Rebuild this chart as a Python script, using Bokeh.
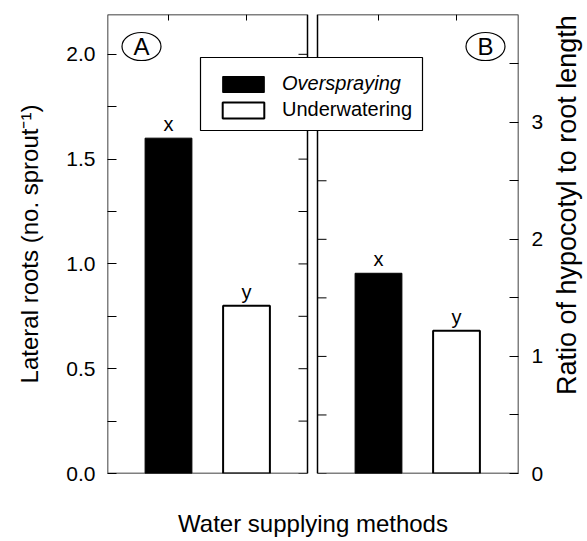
import math
from bokeh.plotting import figure
from bokeh.layouts import row
from bokeh.models import (Range1d, LinearAxis, FixedTicker, BoxAnnotation, Legend,
                          LegendItem, NumeralTickFormatter, ColumnDataSource)
from bokeh.core.properties import value
from bokeh.embed import file_html
from bokeh.resources import INLINE

# ---------------- data ----------------
methods = ["Overspraying", "Underwatering"]
method_pos = [1, 2]
lateral_roots = [1.60, 0.80]          # panel A, no. sprout^-1
hypocotyl_ratio = [1.71, 1.22]        # panel B, ratio
letters_lateral = ["x", "y"]
letters_ratio = ["x", "y"]
panel_tags = ["A", "B"]
a_major = [0.0, 0.5, 1.0, 1.5, 2.0]
a_minor = [0.25, 0.75, 1.25, 1.75]
b_major = [0, 1, 2, 3]
b_minor = [0.5, 1.5, 2.5, 3.5]
A_YMAX = 2.19
B_YMAX = 3.92
x_title = "Water supplying methods"
ya_title = "Lateral roots (no. sprout\u207b\u00b9)"
yb_title = "Ratio of hypocotyl to root length"

# ---------------- layout ----------------
FONT = "Liberation Sans"
FRAME_W, FRAME_H = 411, 459
FRAME_LEFT, FRAME_TOP = 107, 14          # page pixels
BORDER_RIGHT, BORDER_BOTTOM = 28, 64
PAGE_W = 587
PANEL_A_W, GAP = 200, 10
PX = 78.0                                # pixels per category step
FIRST_BAR_PX = 61
BAR_W = 0.6
TICK = 9
TOP_TICK = 6

xa0 = method_pos[0] - FIRST_BAR_PX / PX
xa1 = xa0 + FRAME_W / PX
shift = (PANEL_A_W + GAP) / PX
xb0 = xa0 - shift
xb1 = xb0 + FRAME_W / PX
panel_a_right = xa0 + PANEL_A_W / PX
FIG_H = FRAME_TOP + FRAME_H + BORDER_BOTTOM
FRAME_BOTTOM = FRAME_TOP + FRAME_H


def ax(px):
    return xa0 + (px - FRAME_LEFT) / PX


def ay(py):
    return A_YMAX * (FRAME_BOTTOM - py) / FRAME_H


p = figure(frame_width=FRAME_W, frame_height=FRAME_H,
           x_range=Range1d(xa0, xa1), y_range=Range1d(0, A_YMAX),
           output_backend="svg", toolbar_location=None, tools="",
           min_border_left=FRAME_LEFT, min_border_right=BORDER_RIGHT,
           min_border_top=FRAME_TOP, min_border_bottom=BORDER_BOTTOM,
           outline_line_color=None,
           background_fill_color="white", border_fill_color="white")
p.extra_x_ranges = {"b": Range1d(xb0, xb1)}
p.extra_y_ranges = {"b": Range1d(0, B_YMAX)}
p.grid.visible = False

# bottom axis: title only
xa = p.below[0]
xa.ticker = FixedTicker(ticks=[])
xa.axis_line_color = None
xa.major_tick_in = 0
xa.major_tick_out = 0
xa.minor_tick_in = 0
xa.minor_tick_out = 0
xa.major_label_standoff = 0
xa.axis_label = x_title
xa.axis_label_standoff = 36
xa.axis_label_text_font = FONT
xa.axis_label_text_font_size = "24px"
xa.axis_label_text_font_style = "normal"
xa.axis_label_text_color = "black"

# left axis (panel A)
ya = p.left[0]
ya.ticker = FixedTicker(ticks=a_major, minor_ticks=a_minor)
ya.formatter = NumeralTickFormatter(format="0.0")
ya.axis_line_color = None
ya.major_tick_in = TICK
ya.major_tick_out = 0
ya.minor_tick_in = TICK
ya.minor_tick_out = 0
ya.major_label_standoff = 12
ya.major_label_text_font = FONT
ya.major_label_text_font_size = "21px"
ya.major_label_text_color = "black"
ya.axis_label = ya_title
ya.axis_label_standoff = 20
ya.axis_label_text_font = FONT
ya.axis_label_text_font_size = "24px"
ya.axis_label_text_font_style = "normal"
ya.axis_label_text_color = "black"

# right axis (panel B)
yb = LinearAxis(y_range_name="b", ticker=FixedTicker(ticks=b_major, minor_ticks=b_minor),
                formatter=NumeralTickFormatter(format="0"))
yb.axis_line_color = None
yb.major_tick_in = TICK
yb.major_tick_out = 0
yb.minor_tick_in = TICK
yb.minor_tick_out = 0
yb.major_label_standoff = 13
yb.major_label_text_font = FONT
yb.major_label_text_font_size = "21px"
yb.major_label_text_color = "black"
p.add_layout(yb, "right")

# bars
src_a = ColumnDataSource(dict(x=method_pos, top=lateral_roots, lab=letters_lateral))
src_b = ColumnDataSource(dict(x=method_pos, top=hypocotyl_ratio, lab=letters_ratio))
fills = ["black", "white"]
rend_a = []
for i in range(2):
    r = p.vbar(x=[method_pos[i]], top=[lateral_roots[i]], width=BAR_W, bottom=0,
               fill_color=fills[i], line_color="black", line_width=1 + i)
    rend_a.append(r)
    p.vbar(x=[method_pos[i]], top=[hypocotyl_ratio[i]], width=BAR_W, bottom=0,
           fill_color=fills[i], line_color="black", line_width=1 + i,
           x_range_name="b", y_range_name="b")

p.text(x="x", y="top", text="lab", source=src_a, text_align="center",
       text_baseline="bottom", y_offset=-3, text_font=value(FONT),
       text_font_size="20px", text_color="black")
p.text(x="x", y="top", text="lab", source=src_b, text_align="center",
       text_baseline="bottom", y_offset=-3, text_font=value(FONT),
       text_font_size="20px", text_color="black",
       x_range_name="b", y_range_name="b")

# ticks on the inner edges and on top at the bar positions
na = len(a_major) + len(a_minor)
nb = len(b_major) + len(b_minor)
p.segment(x0=[panel_a_right] * na, x1=[panel_a_right - TICK / PX] * na,
          y0=a_major + a_minor, y1=a_major + a_minor, line_color="black", line_width=1)
p.segment(x0=[xa0] * nb, x1=[xa0 + TICK / PX] * nb,
          y0=b_major + b_minor, y1=b_major + b_minor, line_color="black", line_width=1,
          x_range_name="b", y_range_name="b")
top_len_a = TOP_TICK * A_YMAX / FRAME_H
top_len_b = TOP_TICK * B_YMAX / FRAME_H
p.segment(x0=method_pos, x1=method_pos, y0=[A_YMAX] * 2, y1=[A_YMAX - top_len_a] * 2,
          line_color="black", line_width=1)
p.segment(x0=method_pos, x1=method_pos, y0=[B_YMAX] * 2, y1=[B_YMAX - top_len_b] * 2,
          line_color="black", line_width=1, x_range_name="b", y_range_name="b")

# panel tags in ellipses
tag_x = [ax(141), ax(485)]
tag_y = [ay(46), ay(46)]
p.ellipse(x=tag_x, y=tag_y, width=39, height=28, width_units="screen",
          height_units="screen", fill_color="white", line_color="black", line_width=1.2)
p.text(x=tag_x, y=tag_y, text=panel_tags, text_align="center", text_baseline="middle",
       text_font=value(FONT), text_font_size="24px", text_color="black")

# panel frames
p.add_layout(BoxAnnotation(left=xa0, right=panel_a_right, bottom=0, top=A_YMAX,
                           fill_alpha=0, line_color="black", line_width=1.5, line_alpha=1))
p.add_layout(BoxAnnotation(left=xa0, right=xb1, bottom=0, top=B_YMAX,
                           x_range_name="b", y_range_name="b",
                           fill_alpha=0, line_color="black", line_width=1.5, line_alpha=1))

# legend box + legends
p.add_layout(BoxAnnotation(left=ax(200), right=ax(422), top=ay(57), bottom=ay(130),
                           fill_color="white", fill_alpha=1, line_color="black",
                           line_width=1.2, line_alpha=1))
for i, (py, style) in enumerate([(95, "italic"), (121, "normal")]):
    leg = Legend(items=[LegendItem(label=methods[i], renderers=[rend_a[i]])],
                 location=(217 - FRAME_LEFT, FRAME_BOTTOM - py),
                 border_line_color=None, background_fill_alpha=0, padding=0, margin=0,
                 glyph_width=52, glyph_height=20, label_height=20, label_standoff=13,
                 label_text_font=FONT, label_text_font_size="20px",
                 label_text_font_style=style, label_text_color="black", spacing=0)
    p.add_layout(leg, "center")

# right-hand title (reads bottom to top) in a narrow companion figure
q_left = FRAME_LEFT + FRAME_W + BORDER_RIGHT
q_w = PAGE_W - q_left
q = figure(width=q_w, height=FIG_H, x_range=Range1d(0, 1), y_range=Range1d(0, 1),
           output_backend="svg", toolbar_location=None, tools="", min_border=0,
           outline_line_color=None, background_fill_color="white",
           border_fill_color="white")
q.axis.visible = False
q.grid.visible = False
q.text(x=[(566 - q_left) / q_w], y=[(FIG_H - 224) / FIG_H], text=[yb_title],
       angle=math.pi / 2, text_align="center", text_baseline="middle",
       text_font=value(FONT), text_font_size="27px", text_color="black")

open("out.html", "w").write(file_html(row(p, q), INLINE))
